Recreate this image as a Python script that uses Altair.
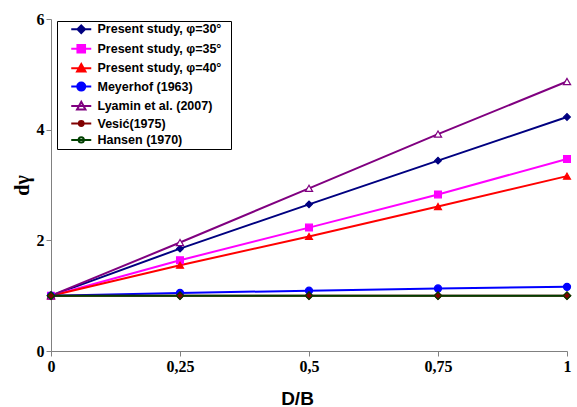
import altair as alt
import pandas as pd

x_vals = [0, 0.25, 0.5, 0.75, 1]
names = ["Present study, φ=30°", "Present study, φ=35°", "Present study, φ=40°",
         "Meyerhof (1963)", "Lyamin et al. (2007)", "Vesić(1975)", "Hansen (1970)"]
phi30 = [1, 1.85, 2.65, 3.44, 4.23]
phi35 = [1, 1.64, 2.23, 2.83, 3.47]
phi40 = [1, 1.55, 2.07, 2.61, 3.16]
meyerhof = [1, 1.05, 1.09, 1.13, 1.16]
lyamin = [1, 1.96, 2.94, 3.92, 4.87]
vesic = [1, 1, 1, 1, 1]
hansen = [1, 1, 1, 1, 1]
series = [phi30, phi35, phi40, meyerhof, lyamin, vesic, hansen]

colors = ["#000080", "#FF00FF", "#FF0000", "#0000FF", "#800080", "#800000", "#004000"]
fills = ["#000080", "#FF00FF", "#FF0000", "#0000FF", "white", "#800000", "transparent"]
shapes = ["diamond", "square", "triangle-up", "circle", "triangle-up", "diamond", "diamond"]
sizes = [45, 55, 60, 70, 60, 30, 36]

rows = []
for i, (n, ys) in enumerate(zip(names, series)):
    for xv, yv in zip(x_vals, ys):
        rows.append({"x": xv, "y": yv, "series": n, "label": n, "k": i})
df = pd.DataFrame(rows)

leg_shapes = ["diamond", "square", "triangle-up", "circle", "triangle-up", "circle", "circle"]
# legend symbol paths: line + marker (unit = sqrt(size)/2)
def marker_path(shape, m):
    if shape == "diamond":
        return f"M0,{-m}L{m},0L0,{m}L{-m},0Z"
    if shape == "square":
        return f"M{-m},{-m}H{m}V{m}H{-m}Z"
    if shape == "triangle-up":
        return f"M0,{-m}L{m},{m*0.8}H{-m}Z"
    return f"M{-m},0A{m},{m} 0 1,0 {m},0A{m},{m} 0 1,0 {-m},0Z"

marker_scale = [1.9, 1.9, 2.1, 2.0, 2.1, 1.2, 1.3]
L = 5.0
leg_paths = []
for s, m in zip(leg_shapes, marker_scale):
    leg_paths.append(f"M{-L},0H{L}" + marker_path(s, m))

base = alt.Chart(df)

xenc = alt.X("x:Q", scale=alt.Scale(domain=[0, 1], nice=False),
             axis=alt.Axis(values=x_vals, title="D/B",
                           labelExpr="replace('' + datum.value, '.', ',')",
                           labelFlush=False, titleFont="Liberation Sans", titleFontSize=19,
                           titleFontWeight="bold", titleX=246, titleY=53, titleBaseline="alphabetic"))
yenc = alt.Y("y:Q", scale=alt.Scale(domain=[0, 6], nice=False),
             axis=alt.Axis(values=[0, 2, 4, 6], format="d", title="dγ", titleFont="Liberation Serif",
                           titleFontSize=20, titleFontWeight="bold", titleX=-29, titleY=166,
                           titleBaseline="middle", titleAngle=270, titleAlign="center"))

lines = base.mark_line(strokeWidth=2).encode(
    x=xenc, y=yenc,
    color=alt.Color("series:N", scale=alt.Scale(domain=names, range=colors), legend=None),
    order="k:Q",
)

points = base.mark_point(filled=False, strokeWidth=1.2, opacity=1).encode(
    x="x:Q", y="y:Q",
    shape=alt.Shape("series:N", scale=alt.Scale(domain=names, range=shapes), legend=None),
    stroke=alt.Stroke("series:N", scale=alt.Scale(domain=names, range=colors), legend=None),
    fill=alt.Fill("series:N", scale=alt.Scale(domain=names, range=fills), legend=None),
    size=alt.Size("series:N", scale=alt.Scale(domain=names, range=sizes), legend=None),
    order="k:Q",
)

leg = alt.Legend(title=" ", titleOrient="right", titlePadding=8, titleFontSize=8,
                 orient="none", legendX=6, legendY=2, padding=2,
                 fillColor="white", strokeColor="black", labelFont="Liberation Sans",
                 labelFontSize=12.5, labelFontWeight="bold", labelColor="black",
                 symbolSize=16, symbolStrokeWidth=2, symbolOffset=16, labelOffset=10,
                 rowPadding=2.45, labelLimit=300)

legend_layer = base.mark_point(filled=False, opacity=1).encode(
    x="x:Q", y="y:Q",
    shape=alt.Shape("label:N", scale=alt.Scale(domain=names, range=leg_paths), legend=leg),
    stroke=alt.Stroke("label:N", scale=alt.Scale(domain=names, range=colors), legend=leg),
    fill=alt.Fill("label:N", scale=alt.Scale(domain=names, range=fills), legend=leg),
).transform_filter("false")

chart = alt.layer(lines, points, legend_layer).resolve_scale(
    shape="independent", stroke="independent", fill="independent", color="independent"
).properties(
    width=516, height=332,
    autosize=alt.AutoSizeParams(type="none"),
    padding={"left": 51, "top": 19, "right": 10, "bottom": 56},
    background="white",
).configure_view(stroke=None).configure_axis(
    grid=False, domainColor="#808080", tickColor="#808080", tickSize=5,
    labelFont="Liberation Serif", labelFontSize=16, labelFontWeight="bold", labelColor="black",
    labelPadding=2, titleColor="black",
)

chart.save("out.html", embed_options={"renderer": "svg", "actions": False})
